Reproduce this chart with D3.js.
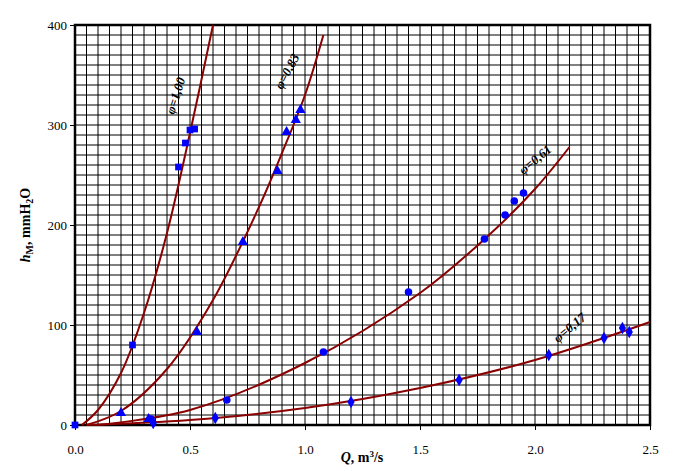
<!DOCTYPE html>
<html><head><meta charset="utf-8">
<script src="https://cdn.jsdelivr.net/npm/d3@7"></script>
<style>body{margin:0;background:#fff}text{font-family:"Liberation Serif","Times New Roman",serif}</style>
</head><body><svg id="chart" width="674" height="471"></svg>
<script>
// Measured points [Q, h] per curve
var pts1 = [[0, 0], [0.25, 80], [0.45, 258], [0.48, 282], [0.5, 295], [0.52, 296]];
var pts2 = [[0.2, 12], [0.32, 6], [0.53, 93], [0.73, 183], [0.88, 254], [0.92, 293], [0.96, 305], [0.98, 315]];
var pts3 = [[0.33, 6], [0.66, 25], [1.08, 73], [1.45, 133], [1.78, 186], [1.87, 210], [1.91, 224], [1.95, 232]];
var pts4 = [[0.34, 2], [0.61, 7], [1.2, 23], [1.67, 45], [2.06, 70], [2.3, 87], [2.38, 97], [2.41, 93]];
// Trend lines
var fit1 = [[0.03, 0], [0.1, 15], [0.2, 52], [0.3, 112], [0.4, 192], [0.5, 292], [0.6, 400]];
var fit2 = [[0.05, 0], [0.2, 14], [0.4, 56], [0.6, 125], [0.8, 218], [0.9, 272], [1.0, 330], [1.08, 390]];
var fit3 = [[0.1, 0], [0.5, 15], [1.0, 62], [1.5, 132], [1.8, 190], [2.0, 236], [2.15, 278]];
var fit4 = [[0.05, 0], [0.5, 5], [1.0, 17], [1.5, 37], [2.0, 65], [2.5, 103]];
var labels = ["φ=1,00", "φ=0,83", "φ=0,61", "φ=0,17"];
var labelPos = [[0.43, 310], [0.9, 335], [1.95, 250], [2.1, 82]];
var symbols = [d3.symbolSquare, d3.symbolTriangle, d3.symbolCircle, d3.symbolDiamond];
var xTicks = [0, 0.5, 1, 1.5, 2, 2.5];
var yTicks = [0, 100, 200, 300, 400];

var svg = d3.select("#chart");
var x = d3.scaleLinear().domain([0, 2.5]).range([75, 650]);
var y = d3.scaleLinear().domain([0, 400]).range([425, 25]);

// grid
svg.append("g").selectAll("line").data(d3.range(0, 51)).enter().append("line")
    .attr("x1", d => x(d * 0.05)).attr("x2", d => x(d * 0.05))
    .attr("y1", y(0)).attr("y2", y(400)).attr("stroke", "#000").attr("stroke-width", 1);
svg.append("g").selectAll("line").data(d3.range(0, 41)).enter().append("line")
    .attr("y1", d => y(d * 10)).attr("y2", d => y(d * 10))
    .attr("x1", x(0)).attr("x2", x(2.5)).attr("stroke", "#000").attr("stroke-width", 1);
svg.append("rect").attr("x", x(0)).attr("y", y(400)).attr("width", x(2.5) - x(0)).attr("height", y(0) - y(400))
    .attr("fill", "none").attr("stroke", "#000").attr("stroke-width", 2.5);

// axes
var xAxis = svg.append("g").attr("transform", `translate(0,${y(0)})`)
    .call(d3.axisBottom(x).tickValues(xTicks).tickFormat(d3.format(".1f")).tickSize(5));
var yAxis = svg.append("g").attr("transform", `translate(${x(0)},0)`)
    .call(d3.axisLeft(y).tickValues(yTicks).tickSize(5));
[xAxis, yAxis].forEach(a => {
    a.select(".domain").remove();
    a.selectAll("line").attr("stroke", "#000");
    a.selectAll("text").attr("font-size", 13).attr("fill", "#000")
        .style("font-family", "'Liberation Serif', serif");
});
xAxis.selectAll("text").attr("dy", "1.6em");

svg.append("text").attr("x", 362).attr("y", 462).attr("text-anchor", "middle")
    .attr("font-size", 14).attr("font-weight", "bold")
    .html('<tspan font-style="italic">Q</tspan>, m<tspan dy="-5" font-size="9">3</tspan><tspan dy="5">/s</tspan>');
svg.append("text").attr("transform", "translate(30,225) rotate(-90)").attr("text-anchor", "middle")
    .attr("font-size", 14).attr("font-weight", "bold")
    .html('<tspan font-style="italic">h</tspan><tspan font-size="10" dy="3">M</tspan><tspan dy="-3">, mmH</tspan><tspan font-size="10" dy="3">2</tspan><tspan dy="-3">O</tspan>');

// curves
var line = d3.line().x(d => x(d[0])).y(d => y(d[1])).curve(d3.curveCatmullRom);
[fit1, fit2, fit3, fit4].forEach(f => {
    svg.append("path").attr("d", line(f)).attr("fill", "none")
        .attr("stroke", "#8b0000").attr("stroke-width", 2);
});

// markers
[pts1, pts2, pts3, pts4].forEach((p, i) => {
    svg.append("g").selectAll("path").data(p).enter().append("path")
        .attr("d", d3.symbol().type(symbols[i]).size(45))
        .attr("transform", d => `translate(${x(d[0])},${y(d[1])})`)
        .attr("fill", "#0000ff");
});

// curve labels
labels.forEach((t, i) => {
    svg.append("text")
        .attr("transform", `translate(${x(labelPos[i][0])},${y(labelPos[i][1])}) rotate(${i == 0 ? -72 : i == 1 ? -62 : -40})`)
        .attr("font-size", 13).attr("font-weight", "bold").attr("font-style", "italic")
        .attr("fill", "#000")
        .text(t);
});
</script></body></html>
